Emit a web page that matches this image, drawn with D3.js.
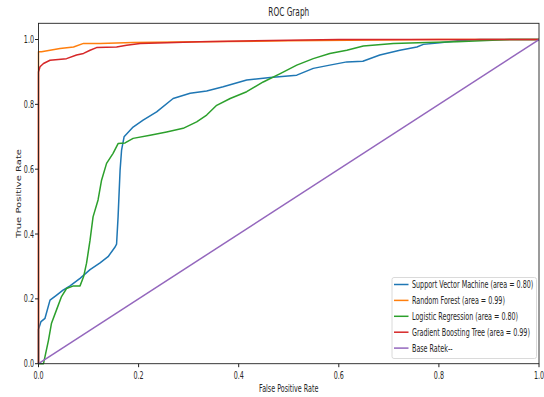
<!DOCTYPE html>
<html>
<head>
<meta charset="utf-8">
<script src="https://cdn.jsdelivr.net/npm/d3@7"></script>
<style>
  body { margin: 0; background: #fff; }
  text { font-family: "DejaVu Sans", sans-serif; fill: #262626; }
</style>
</head>
<body>
<svg id="chart" width="544" height="397"></svg>
<script>
// ROC curves (fpr, tpr)
const svmFpr = [0, 0, 0.005, 0.013, 0.023, 0.035, 0.049, 0.063, 0.083, 0.103, 0.123, 0.139, 0.153, 0.156, 0.159, 0.163, 0.166, 0.171, 0.189, 0.209, 0.236, 0.269, 0.303, 0.336, 0.369, 0.416, 0.463, 0.516, 0.549, 0.582, 0.616, 0.648, 0.682, 0.722, 0.756, 0.769, 0.802, 0.842, 0.882, 1];
const svmTpr = [0, 0.106, 0.13, 0.14, 0.196, 0.21, 0.227, 0.24, 0.263, 0.29, 0.311, 0.33, 0.36, 0.369, 0.453, 0.597, 0.659, 0.70, 0.73, 0.751, 0.777, 0.818, 0.834, 0.841, 0.854, 0.875, 0.883, 0.89, 0.911, 0.921, 0.931, 0.933, 0.952, 0.967, 0.977, 0.985, 0.99, 0.997, 1, 1];

const rfFpr = [0, 0, 0.006, 0.043, 0.07, 0.09, 0.123, 0.189, 0.323, 0.5, 0.8, 1];
const rfTpr = [0, 0.962, 0.962, 0.972, 0.977, 0.988, 0.988, 0.991, 0.993, 0.996, 1, 1];

const lrFpr = [0, 0.01, 0.02, 0.026, 0.036, 0.046, 0.056, 0.07, 0.083, 0.09, 0.096, 0.103, 0.109, 0.119, 0.126, 0.136, 0.149, 0.159, 0.173, 0.189, 0.223, 0.256, 0.289, 0.316, 0.336, 0.356, 0.383, 0.416, 0.449, 0.483, 0.516, 0.549, 0.582, 0.616, 0.649, 0.709, 0.776, 0.836, 0.942, 1];
const lrTpr = [0, 0, 0.073, 0.125, 0.166, 0.207, 0.232, 0.24, 0.24, 0.268, 0.31, 0.381, 0.453, 0.505, 0.566, 0.618, 0.649, 0.679, 0.681, 0.695, 0.705, 0.715, 0.726, 0.746, 0.767, 0.797, 0.818, 0.839, 0.869, 0.895, 0.921, 0.941, 0.957, 0.967, 0.98, 0.988, 0.991, 0.993, 1, 1];

const gbFpr = [0, 0, 0.003, 0.01, 0.023, 0.056, 0.076, 0.09, 0.103, 0.116, 0.156, 0.176, 0.203, 0.256, 0.323, 0.5, 0.6, 1];
const gbTpr = [0, 0.9, 0.916, 0.926, 0.936, 0.941, 0.952, 0.957, 0.967, 0.975, 0.977, 0.982, 0.988, 0.99, 0.993, 0.998, 1, 1];

const baseFpr = [0, 1];
const baseTpr = [0, 1];

const seriesNames = ["Support Vector Machine (area = 0.80)", "Random Forest (area = 0.99)", "Logistic Regression (area = 0.80)", "Gradient Boosting Tree (area = 0.99)", "Base Ratek--"];
const seriesColors = ["#1f77b4", "#ff7f0e", "#2ca02c", "#d62728", "#9467bd"];
const xTicks = [0, 0.2, 0.4, 0.6, 0.8, 1.0];
const yTicks = [0, 0.2, 0.4, 0.6, 0.8, 1.0];

const series = [
  [svmFpr, svmTpr], [rfFpr, rfTpr], [lrFpr, lrTpr], [gbFpr, gbTpr], [baseFpr, baseTpr]
].map((s, i) => ({ name: seriesNames[i], color: seriesColors[i], pts: s[0].map((f, j) => [f, s[1][j]]) }));

const svg = d3.select("#chart");
const plotL = 38.5, plotR = 539, plotT = 23.3, plotB = 363.7;
const sx = 0.64; // picture is squeezed horizontally

const x = d3.scaleLinear().domain([0, 1]).range([plotL, plotR]);
const y = d3.scaleLinear().domain([0, 1.05]).range([plotB, plotT]);

// text helper, squeezed like the picture
function label(px, py, str, size, anchor, rot) {
  return svg.append("text")
    .attr("transform", `translate(${px},${py}) scale(${sx},1)` + (rot ? ` rotate(${rot})` : ""))
    .attr("text-anchor", anchor)
    .style("font-size", size + "px")
    .text(str);
}

// curves
const line = d3.line().x(d => x(d[0])).y(d => y(d[1]));
svg.append("g").selectAll("path")
  .data(series)
  .enter()
  .append("path")
  .attr("d", d => line(d.pts))
  .attr("fill", "none")
  .attr("stroke", d => d.color)
  .attr("stroke-width", 1.5)
  .attr("stroke-linejoin", "round");

// frame
svg.append("rect")
  .attr("x", plotL).attr("y", plotT)
  .attr("width", plotR - plotL).attr("height", plotB - plotT)
  .attr("fill", "none").attr("stroke", "#222").attr("stroke-width", 0.9);

// ticks
svg.append("g").selectAll("line")
  .data(xTicks).enter().append("line")
  .attr("x1", d => x(d)).attr("x2", d => x(d))
  .attr("y1", plotB).attr("y2", plotB + 3.5)
  .attr("stroke", "#222");
xTicks.forEach(t => label(x(t), plotB + 15.5, t.toFixed(1), 10, "middle"));

svg.append("g").selectAll("line")
  .data(yTicks).enter().append("line")
  .attr("x1", plotL - 3.5).attr("x2", plotL)
  .attr("y1", d => y(d)).attr("y2", d => y(d))
  .attr("stroke", "#222");
yTicks.forEach(t => label(plotL - 4.5, y(t) + 3.6, t.toFixed(1), 10, "end"));

// titles
label((plotL + plotR) / 2, 16, "ROC Graph", 11.5, "middle");
label((plotL + plotR) / 2, 392, "False Positive Rate", 10, "middle");
label(20.5, (plotT + plotB) / 2, "True Positive Rate", 10, "middle", -90);

// legend
const lg = svg.append("g");
lg.append("rect")
  .attr("x", 392).attr("y", 277.5)
  .attr("width", 144.5).attr("height", 81)
  .attr("rx", 2)
  .attr("fill", "#fff").attr("fill-opacity", 0.8)
  .attr("stroke", "#d6d6d6").attr("stroke-width", 0.9);
series.forEach((s, i) => {
  const ly = 284.5 + i * 15.9;
  lg.append("line")
    .attr("x1", 394).attr("x2", 408.5)
    .attr("y1", ly).attr("y2", ly)
    .attr("stroke", s.color).attr("stroke-width", 1.5);
  label(412, ly + 3.5, s.name, 10, "start");
});
</script>
</body>
</html>
